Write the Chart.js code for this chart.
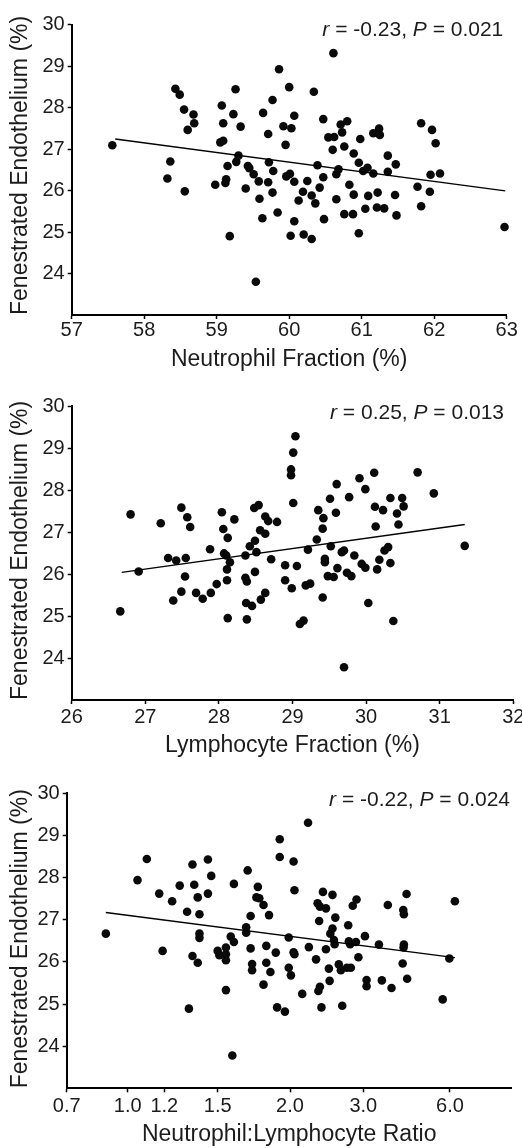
<!DOCTYPE html>
<html>
<head>
<meta charset="utf-8">
<title>Fenestrated endothelium vs leukocyte fractions</title>
<script src="https://cdn.jsdelivr.net/npm/chart.js@4.4.1/dist/chart.umd.min.js"></script>
<style>
  html, body { margin: 0; padding: 0; background: #fff; }
  #wrap { position: relative; width: 522px; height: 1148px; overflow: hidden; }
  canvas { position: absolute; left: 0; }
</style>
</head>
<body>
<div id="wrap">
  <canvas id="nf" width="522" height="375" style="top:0px"></canvas>
  <canvas id="lf" width="522" height="382" style="top:375px"></canvas>
  <canvas id="nlr" width="522" height="391" style="top:757px"></canvas>
</div>
<script>
// shared y axis
const yTitle = 'Fenestrated Endothelium (%)';
const yTicks = [24, 25, 26, 27, 28, 29, 30];

// panel 1: neutrophil fraction
const nfTicks = [57, 58, 59, 60, 61, 62, 63];
const nfX = [57.56, 58.43, 58.49, 58.55, 58.68, 58.69, 58.60, 58.36, 58.32, 58.56, 59.07, 59.09, 59.05, 59.09, 58.98, 59.12, 59.13, 59.15, 59.18, 59.26, 59.23, 59.33, 59.30, 59.27, 59.43, 59.45, 59.40, 59.51, 59.58, 59.59, 59.63, 59.54, 59.64, 59.77, 59.71, 59.72, 59.78, 59.71, 59.77, 59.84, 59.86, 59.92, 60.00, 60.03, 60.07, 59.95, 59.96, 60.01, 60.07, 60.07, 60.02, 60.13, 60.19, 60.25, 60.31, 60.36, 60.20, 60.31, 60.34, 60.39, 60.42, 60.47, 60.48, 60.47, 60.54, 60.62, 60.60, 60.61, 60.65, 60.68, 60.65, 60.71, 60.73, 60.80, 60.76, 60.76, 60.88, 60.83, 60.89, 60.89, 60.96, 60.98, 60.96, 61.02, 61.05, 61.08, 61.09, 61.16, 61.16, 61.22, 61.21, 61.24, 61.25, 61.31, 61.36, 61.36, 61.47, 61.46, 61.48, 61.77, 61.82, 61.82, 61.94, 61.95, 61.97, 62.02, 62.08, 62.97];
const nfY = [27.09, 28.45, 28.31, 27.95, 27.83, 27.62, 27.46, 26.70, 26.29, 25.98, 28.05, 27.62, 27.16, 27.20, 26.14, 26.18, 26.27, 26.59, 24.90, 28.44, 27.84, 27.54, 26.84, 26.69, 26.59, 26.54, 26.05, 26.39, 26.22, 25.80, 25.33, 23.80, 27.87, 28.18, 27.36, 26.68, 26.47, 26.20, 25.95, 25.47, 28.92, 27.55, 28.49, 27.50, 27.80, 27.10, 26.34, 26.40, 26.21, 25.26, 24.91, 25.76, 25.97, 26.23, 25.88, 25.69, 24.94, 24.83, 28.38, 26.61, 26.07, 26.32, 25.31, 27.72, 27.28, 27.29, 26.98, 29.31, 26.39, 26.51, 25.79, 27.59, 27.40, 27.67, 27.06, 25.43, 25.43, 26.14, 25.90, 26.89, 26.67, 27.24, 24.97, 26.47, 25.56, 26.55, 25.87, 27.38, 26.41, 25.95, 25.59, 27.49, 27.34, 25.57, 26.84, 26.45, 26.63, 25.89, 25.40, 26.09, 27.62, 25.62, 25.97, 26.38, 27.46, 27.14, 26.41, 25.12];
const nfFitX = [57.6, 62.98];
const nfFitY = [27.24, 25.99];

// panel 2: lymphocyte fraction
const lfTicks = [26, 27, 28, 29, 30, 31, 32];
const lfX = [26.66, 26.80, 26.91, 27.21, 27.31, 27.42, 27.55, 27.49, 27.57, 27.61, 27.54, 27.49, 27.38, 27.69, 27.78, 27.89, 27.88, 27.97, 28.04, 28.06, 28.12, 28.07, 28.10, 28.15, 28.11, 28.11, 28.12, 28.21, 28.36, 28.36, 28.38, 28.38, 28.37, 28.45, 28.42, 28.49, 28.51, 28.49, 28.48, 28.54, 28.56, 28.63, 28.63, 28.67, 28.79, 28.71, 28.57, 28.63, 28.90, 28.90, 28.99, 28.98, 28.98, 29.01, 29.04, 29.01, 29.06, 29.10, 29.15, 29.21, 29.18, 29.24, 29.33, 29.35, 29.42, 29.41, 29.44, 29.44, 29.41, 29.48, 29.51, 29.52, 29.56, 29.59, 29.60, 29.61, 29.67, 29.70, 29.70, 29.74, 29.77, 29.80, 29.84, 29.91, 29.94, 29.99, 29.99, 30.03, 30.11, 30.12, 30.13, 30.15, 30.18, 30.23, 30.25, 30.30, 30.33, 30.33, 30.37, 30.42, 30.44, 30.49, 30.51, 30.70, 30.92, 31.34];
const lfY = [25.11, 27.42, 26.06, 27.21, 26.38, 26.32, 26.38, 27.58, 27.35, 27.12, 25.94, 25.58, 25.37, 25.55, 25.41, 25.55, 26.59, 25.76, 27.47, 27.07, 26.86, 26.49, 26.44, 26.28, 26.11, 25.85, 24.95, 27.30, 26.44, 25.91, 25.82, 24.92, 25.31, 25.24, 26.66, 26.79, 26.52, 26.05, 27.57, 27.64, 27.04, 26.96, 27.37, 27.26, 27.24, 26.35, 25.39, 25.55, 26.21, 25.85, 25.66, 28.49, 28.35, 28.89, 29.28, 27.69, 26.19, 24.81, 24.89, 26.58, 25.73, 25.77, 26.82, 27.52, 27.33, 27.08, 26.36, 26.28, 25.44, 25.95, 27.79, 26.66, 25.93, 27.46, 28.14, 26.14, 26.52, 26.56, 23.78, 26.03, 27.83, 25.95, 26.44, 28.28, 26.24, 26.15, 28.02, 25.31, 28.41, 27.60, 27.13, 26.11, 26.34, 27.52, 26.56, 26.64, 26.26, 27.81, 24.88, 27.44, 27.18, 27.81, 27.61, 28.42, 27.92, 26.67];
const lfFitX = [26.68, 31.34];
const lfFitY = [26.04, 27.18];

// panel 3: neutrophil:lymphocyte ratio (uneven, log-like axis)
const nlrTickVals = [0.7, 1.0, 1.2, 1.5, 2.0, 3.0, 6.0];
const nlrTickLabels = ['0.7', '1.0', '1.2', '1.5', '2.0', '3.0', '6.0'];
const nlrTickPos = [0, 0.1371, 0.2193, 0.3393, 0.5018, 0.6665, 0.8613]; // fraction along the axis
const nlrX = [0.88, 1.05, 1.10, 1.17, 1.19, 1.24, 1.28, 1.32, 1.33, 1.35, 1.36, 1.35, 1.38, 1.39, 1.38, 1.39, 1.39, 1.44, 1.44, 1.46, 1.50, 1.51, 1.55, 1.55, 1.55, 1.55, 1.58, 1.60, 1.59, 1.60, 1.69, 1.68, 1.68, 1.71, 1.71, 1.72, 1.72, 1.76, 1.75, 1.77, 1.80, 1.80, 1.82, 1.82, 1.84, 1.85, 1.89, 1.90, 1.92, 1.92, 1.96, 1.99, 1.99, 2.01, 2.04, 2.05, 2.04, 2.05, 2.14, 2.21, 2.22, 2.31, 2.33, 2.34, 2.36, 2.35, 2.36, 2.38, 2.40, 2.44, 2.44, 2.48, 2.49, 2.50, 2.53, 2.53, 2.55, 2.57, 2.56, 2.62, 2.65, 2.67, 2.74, 2.76, 2.77, 2.80, 2.79, 2.83, 2.89, 2.88, 2.92, 3.04, 3.08, 3.08, 3.40, 3.48, 3.65, 3.76, 4.11, 4.13, 4.15, 4.15, 4.14, 4.24, 4.26, 5.66, 5.97, 6.24];
const nlrY = [26.67, 27.94, 28.44, 27.62, 26.26, 27.44, 27.81, 27.19, 24.89, 28.31, 27.83, 26.14, 27.53, 27.13, 25.98, 26.67, 26.57, 28.43, 27.62, 28.04, 26.26, 26.16, 26.34, 26.18, 26.04, 25.33, 26.60, 26.47, 23.78, 27.85, 28.17, 26.82, 26.69, 27.09, 26.32, 25.95, 25.80, 27.78, 27.53, 27.51, 25.46, 27.35, 26.38, 25.98, 27.11, 25.76, 26.22, 24.92, 28.91, 28.49, 24.82, 26.58, 25.86, 25.68, 26.23, 26.18, 28.38, 27.70, 25.24, 29.30, 26.35, 26.06, 27.39, 25.31, 25.41, 26.97, 27.31, 24.92, 27.66, 27.27, 26.30, 25.84, 25.55, 26.67, 26.79, 27.59, 26.52, 27.05, 26.42, 25.94, 25.80, 24.96, 25.86, 26.87, 26.49, 25.86, 26.42, 27.33, 27.48, 26.47, 26.11, 26.61, 25.57, 25.42, 26.41, 25.56, 27.35, 25.38, 25.96, 27.23, 27.13, 26.41, 26.34, 27.61, 25.60, 25.11, 26.08, 27.44];
const nlrFitX = [0.88, 6.24];
const nlrFitY = [27.17, 26.10];

const FONT = '"Liberation Sans", Arial, Helvetica, sans-serif';
const INK = '#1c1c1c';

// log interpolation between the labelled ticks of the ratio axis
function nlrToAxis(v) {
  let i = 0;
  while (i < nlrTickVals.length - 2 && v > nlrTickVals[i + 1]) i++;
  const a = Math.log(nlrTickVals[i]), b = Math.log(nlrTickVals[i + 1]);
  return nlrTickPos[i] + (Math.log(v) - a) / (b - a) * (nlrTickPos[i + 1] - nlrTickPos[i]);
}

function toPoints(xs, ys, fx) {
  return xs.map((x, i) => ({x: fx ? fx(x) : x, y: ys[i]}));
}

// "r = ..., P = ..." with italic r and P
const notePlugin = {
  id: 'note',
  afterDatasetsDraw(chart, args, opts) {
    const ctx = chart.ctx;
    const fontFor = it => (it ? 'italic ' : '') + opts.size + 'px ' + FONT;
    ctx.save();
    ctx.fillStyle = INK;
    ctx.textAlign = 'left';
    ctx.textBaseline = 'alphabetic';
    let total = 0;
    opts.parts.forEach(p => { ctx.font = fontFor(p[1]); total += ctx.measureText(p[0]).width; });
    let x = opts.right - total;
    opts.parts.forEach(p => {
      ctx.font = fontFor(p[1]);
      ctx.fillText(p[0], x, opts.baseline);
      x += ctx.measureText(p[0]).width;
    });
    ctx.restore();
  }
};

const tickFont = {family: FONT, size: 20, lineHeight: 1};
const titleFont = {family: FONT, size: 23, lineHeight: 1};
const axisGrid = {drawOnChartArea: false, drawTicks: true, tickLength: 4, tickWidth: 1.5, tickColor: '#000'};
const axisBorder = {display: true, color: '#000', width: 2};

function makeChart(id, p) {
  return new Chart(document.getElementById(id), {
    type: 'scatter',
    data: {
      datasets: [
        {type: 'line', data: p.fit, borderColor: '#000', borderWidth: 1.4, pointRadius: 0, fill: false, clip: false},
        {type: 'scatter', data: p.points, pointRadius: 4.3, pointHoverRadius: 4.3,
          backgroundColor: '#0a0a0a', borderWidth: 0, clip: false}
      ]
    },
    options: {
      responsive: false,
      animation: false,
      devicePixelRatio: 1,
      layout: {padding: p.padding},
      plugins: {
        legend: {display: false},
        tooltip: {enabled: false},
        note: p.note
      },
      scales: {
        x: {
          type: 'linear', min: p.xMin, max: p.xMax,
          afterBuildTicks: s => { s.ticks = p.xTicks.map(v => ({value: v})); },
          afterFit: s => { s.height = p.xAxisHeight; s.paddingLeft = 0; s.paddingRight = 0; },
          ticks: {font: tickFont, color: INK, padding: p.xTickPad, maxRotation: 0, autoSkip: false,
            callback: (v, i) => p.xLabels[i]},
          grid: axisGrid,
          border: axisBorder,
          title: {display: true, text: p.xTitle, font: titleFont, color: INK,
            padding: {top: 0, bottom: p.xTitlePad}}
        },
        y: {
          type: 'linear', min: 23, max: 30,
          afterBuildTicks: s => { s.ticks = yTicks.map(v => ({value: v})); },
          afterFit: s => { s.width = p.yAxisWidth; s.paddingTop = 0; s.paddingBottom = 0; },
          ticks: {font: tickFont, color: INK, padding: 3},
          grid: axisGrid,
          border: axisBorder,
          title: {display: true, text: yTitle, align: 'start', font: titleFont, color: INK,
            padding: {top: 9.5, bottom: 0}}
        }
      }
    },
    plugins: [notePlugin]
  });
}

makeChart('nf', {
  points: toPoints(nfX, nfY),
  fit: toPoints(nfFitX, nfFitY),
  xMin: 57, xMax: 63, xTicks: nfTicks, xLabels: nfTicks.map(String),
  xTitle: 'Neutrophil Fraction (%)',
  padding: {top: 24.5, right: 15.3, bottom: 0, left: 0},
  xAxisHeight: 60, yAxisWidth: 71.7, xTickPad: 1, xTitlePad: 3.5,
  note: {parts: [['r', true], [' = -0.23, ', false], ['P', true], [' = 0.021', false]],
    size: 21, right: 503.3, baseline: 36}
});

makeChart('lf', {
  points: toPoints(lfX, lfY),
  fit: toPoints(lfFitX, lfFitY),
  xMin: 26, xMax: 32, xTicks: lfTicks, xLabels: lfTicks.map(String),
  xTitle: 'Lymphocyte Fraction (%)',
  padding: {top: 31, right: 8.7, bottom: 0, left: 0},
  xAxisHeight: 57, yAxisWidth: 71.7, xTickPad: 3.5, xTitlePad: 0,
  note: {parts: [['r', true], [' = 0.25, ', false], ['P', true], [' = 0.013', false]],
    size: 21, right: 504, baseline: 44.3}
});

makeChart('nlr', {
  points: toPoints(nlrX, nlrY, nlrToAxis),
  fit: toPoints(nlrFitX, nlrFitY, nlrToAxis),
  xMin: 0, xMax: 1, xTicks: nlrTickPos, xLabels: nlrTickLabels,
  xTitle: 'Neutrophil:Lymphocyte Ratio',
  padding: {top: 36.3, right: 10.3, bottom: 0, left: 0},
  xAxisHeight: 59.7, yAxisWidth: 66.7, xTickPad: 4, xTitlePad: 2.3,
  note: {parts: [['r', true], [' = -0.22, ', false], ['P', true], [' = 0.024', false]],
    size: 21, right: 510, baseline: 49}
});
</script>
</body>
</html>
